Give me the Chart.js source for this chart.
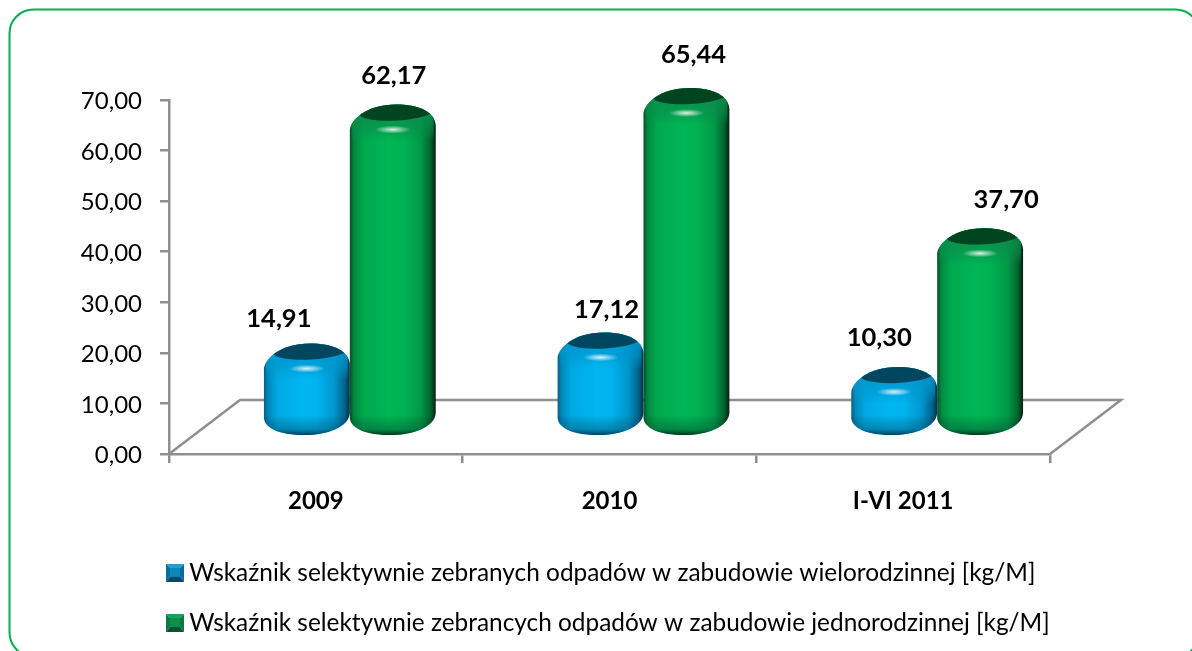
<!DOCTYPE html>
<html lang="pl">
<head>
<meta charset="utf-8">
<title>Wskaźnik selektywnie zebranych odpadów</title>
<style>
  html, body { margin: 0; padding: 0; background: #fff; overflow: hidden; }
  canvas { display: block; }
</style>
<script src="https://cdn.jsdelivr.net/npm/chart.js@4"></script>
</head>
<body>
<canvas id="chart" width="1192" height="651"></canvas>
<script>
const categories = ['2009', '2010', 'I-VI 2011'];
const wieloValues = [14.91, 17.12, 10.30];
const jednoValues = [62.17, 65.44, 37.70];
const wieloLabel = 'Wskaźnik selektywnie zebranych odpadów w zabudowie wielorodzinnej [kg/M]';
const jednoLabel = 'Wskaźnik selektywnie zebrancych odpadów w zabudowie jednorodzinnej [kg/M]';
const yTicks = [0, 10, 20, 30, 40, 50, 60, 70];

// 3D look, floor depth in px
const DEPTH_X = 71, DEPTH_Y = 54;
const BAR_SHIFT_X = 34, BAR_SHIFT_Y = 22, BAR_BOTTOM = 19;
const AXIS_GREY = '#8f8f8f';
const FONT = 'Lato, "Open Sans", sans-serif';

// data label nudges from the top of each cylinder
const labelNudge = [
    [[-28, -38], [6, -36], [-15, -42]],
    [[1, -42], [7, -46], [26, -42]]
];

const palette = [
    {
        stops: ['#075f88', '#0089bd', '#00a9e2', '#00b7f2', '#00b4ef', '#0096cc', '#04648c', '#032f44'],
        cap: '#00465f', shoulder: [0, 150, 205], rim: 'rgba(0,25,50,0.75)'
    },
    {
        stops: ['#064f28', '#008a40', '#00a94f', '#00b655', '#00b252', '#009a48', '#04632f', '#02200f'],
        cap: '#00451f', shoulder: [10, 140, 75], rim: 'rgba(0,25,10,0.8)'
    }
];

function fmt(v) {
    return v.toFixed(2).replace('.', ',');
}

function swatch(light, mid, side, dark) {
    const c = document.createElement('canvas');
    c.width = 18; c.height = 18;
    const g = c.getContext('2d');
    const tri = (col, pts) => {
        g.fillStyle = col;
        g.beginPath();
        pts.forEach((p, i) => i ? g.lineTo(p[0], p[1]) : g.moveTo(p[0], p[1]));
        g.closePath();
        g.fill();
    };
    tri(light, [[0, 0], [18, 0], [14, 4], [4, 4]]);
    tri(side, [[0, 0], [4, 4], [4, 13], [0, 18]]);
    tri(side, [[18, 0], [14, 4], [14, 13], [18, 18]]);
    tri(dark, [[0, 18], [4, 13], [14, 13], [18, 18]]);
    g.fillStyle = mid;
    g.fillRect(4, 4, 10, 9);
    return c;
}

function cylinderPath(ctx, x0, x1, top, bottom) {
    const w = x1 - x0, cx = (x0 + x1) / 2;
    ctx.beginPath();
    ctx.moveTo(x0, bottom - 17);
    ctx.lineTo(x0, top + 12);
    ctx.bezierCurveTo(x0 + 1, top + 2, x0 + w * 0.2, top - 13, cx + 3, top - 13);
    ctx.bezierCurveTo(x1 - w * 0.2, top - 13, x1 - 1, top - 6, x1, top + 8);
    ctx.lineTo(x1, bottom - 22);
    ctx.bezierCurveTo(x1 - 1, bottom - 8, x1 - w * 0.25, bottom, cx - 3, bottom);
    ctx.bezierCurveTo(x0 + w * 0.2, bottom, x0 + 1, bottom - 6, x0, bottom - 17);
    ctx.closePath();
}

function drawCylinder(ctx, x, w, top, bottom, look) {
    const x0 = x - w / 2, x1 = x + w / 2;
    ctx.save();
    cylinderPath(ctx, x0, x1, top, bottom);
    ctx.clip();

    // body, dark on both edges
    const body = ctx.createLinearGradient(x0, 0, x1, 0);
    const at = [0, 0.05, 0.16, 0.45, 0.62, 0.82, 0.94, 1];
    look.stops.forEach((c, i) => body.addColorStop(at[i], c));
    ctx.fillStyle = body;
    ctx.fillRect(x0 - 1, top - 16, w + 2, bottom - top + 20);

    // rounded bottom edge
    const foot = ctx.createLinearGradient(0, bottom - 20, 0, bottom);
    foot.addColorStop(0, 'rgba(0,0,0,0)');
    foot.addColorStop(0.7, 'rgba(0,30,40,0.28)');
    foot.addColorStop(1, look.rim);
    ctx.fillStyle = foot;
    ctx.fillRect(x0 - 1, bottom - 20, w + 2, 21);

    // shoulder under the cap, fades into the body
    const rgb = look.shoulder.join(',');
    const shoulder = ctx.createLinearGradient(0, top - 6, 0, top + 24);
    shoulder.addColorStop(0, 'rgba(' + rgb + ',0.9)');
    shoulder.addColorStop(0.55, 'rgba(' + rgb + ',0.6)');
    shoulder.addColorStop(1, 'rgba(' + rgb + ',0)');
    ctx.fillStyle = shoulder;
    ctx.fillRect(x0 + 2, top - 14, w - 4, 38);

    // dark top cap, pushed to the right
    ctx.fillStyle = look.cap;
    ctx.beginPath();
    ctx.ellipse(x + 4, top - 6, w * 0.44, 9, -0.06, 0, Math.PI * 2);
    ctx.fill();

    // highlight
    ctx.save();
    ctx.translate(x, top + 12);
    ctx.scale(1, 0.22);
    const glow = ctx.createRadialGradient(0, 0, 0, 0, 0, 18);
    glow.addColorStop(0, 'rgba(255,255,255,0.85)');
    glow.addColorStop(1, 'rgba(255,255,255,0)');
    ctx.fillStyle = glow;
    ctx.beginPath();
    ctx.arc(0, 0, 18, 0, Math.PI * 2);
    ctx.fill();
    ctx.restore();

    ctx.restore();
}

const framePlugin = {
    id: 'frame',
    beforeDraw(chart) {
        const ctx = chart.ctx;
        ctx.save();
        ctx.fillStyle = '#fff';
        ctx.fillRect(0, 0, chart.width, chart.height);
        ctx.strokeStyle = '#00b050';
        ctx.lineWidth = 2;
        ctx.beginPath();
        ctx.roundRect(9.5, 9.5, 1190, 647, 24);
        ctx.stroke();
        ctx.restore();
    }
};

const floorPlugin = {
    id: 'floor',
    beforeDatasetsDraw(chart) {
        const { ctx, chartArea } = chart;
        const l = chartArea.left, r = chartArea.right, b = chartArea.bottom;
        ctx.save();
        ctx.strokeStyle = AXIS_GREY;
        ctx.lineWidth = 2.5;
        ctx.lineJoin = 'miter';
        ctx.beginPath();
        ctx.moveTo(l, b);
        ctx.lineTo(l + DEPTH_X, b - DEPTH_Y);
        ctx.lineTo(r + DEPTH_X, b - DEPTH_Y);
        ctx.lineTo(r, b);
        ctx.stroke();
        ctx.restore();
    }
};

const cylinderPlugin = {
    id: 'cylinders',
    afterDatasetsDraw(chart) {
        const ctx = chart.ctx;
        const bottom = chart.chartArea.bottom - BAR_BOTTOM;
        chart.data.datasets.forEach((ds, i) => {
            chart.getDatasetMeta(i).data.forEach((bar, j) => {
                drawCylinder(ctx, bar.x + BAR_SHIFT_X, bar.width, bar.y - BAR_SHIFT_Y, bottom, palette[i]);
            });
        });
        ctx.save();
        ctx.font = 'bold 25.5px ' + FONT;
        ctx.fillStyle = '#000';
        ctx.textAlign = 'center';
        ctx.textBaseline = 'middle';
        chart.data.datasets.forEach((ds, i) => {
            chart.getDatasetMeta(i).data.forEach((bar, j) => {
                const n = labelNudge[i][j];
                ctx.fillText(fmt(ds.data[j]), bar.x + BAR_SHIFT_X + n[0], bar.y - BAR_SHIFT_Y + n[1]);
            });
        });
        ctx.restore();
    }
};

// legend sits under the axis, left aligned on both rows
const legendPlugin = {
    id: 'legendSpot',
    afterLayout(chart) {
        const lg = chart.legend;
        lg.left = 147.3;
        lg.top = 535;
        lg.right = 1192;
        lg.bottom = 800;
    }
};

new Chart(document.getElementById('chart'), {
    type: 'bar',
    data: {
        labels: categories,
        datasets: [
            { label: wieloLabel, data: wieloValues, backgroundColor: 'transparent', pointStyle: swatch('#1f9fd4', '#0d86bd', '#0a6c9c', '#0c4767') },
            { label: jednoLabel, data: jednoValues, backgroundColor: 'transparent', pointStyle: swatch('#12a35c', '#0b8f4b', '#0a7a3f', '#0a5430') }
        ]
    },
    options: {
        responsive: false,
        animation: false,
        layout: { padding: { top: 100, right: 142, bottom: 0, left: 0 } },
        datasets: { bar: { categoryPercentage: 0.585, barPercentage: 1 } },
        plugins: {
            tooltip: { enabled: false },
            legend: {
                position: 'chartArea',
                align: 'start',
                labels: {
                    usePointStyle: true,
                    boxWidth: 4,
                    boxHeight: 4,
                    padding: 25.7,
                    color: '#000',
                    font: { family: FONT, size: 24.4 }
                }
            }
        },
        scales: {
            x: {
                afterFit(scale) { scale.height = 197; },
                grid: { offset: true, drawOnChartArea: false, color: AXIS_GREY, lineWidth: 2.5, tickLength: 9 },
                border: { color: AXIS_GREY, width: 2.5 },
                ticks: { color: '#000', padding: 24, maxRotation: 0, font: { family: FONT, size: 24, weight: 'bold' } }
            },
            y: {
                min: yTicks[0],
                max: yTicks[yTicks.length - 1],
                afterFit(scale) { scale.width = 169; },
                afterBuildTicks(scale) { scale.ticks = yTicks.map(v => ({ value: v })); },
                grid: { drawOnChartArea: false, color: AXIS_GREY, lineWidth: 2.5, tickLength: 9 },
                border: { color: AXIS_GREY, width: 2.5 },
                ticks: { color: '#000', padding: 18, labelOffset: 1.5, font: { family: FONT, size: 24 }, callback: v => fmt(v) }
            }
        }
    },
    plugins: [framePlugin, floorPlugin, cylinderPlugin, legendPlugin]
});
</script>
</body>
</html>
